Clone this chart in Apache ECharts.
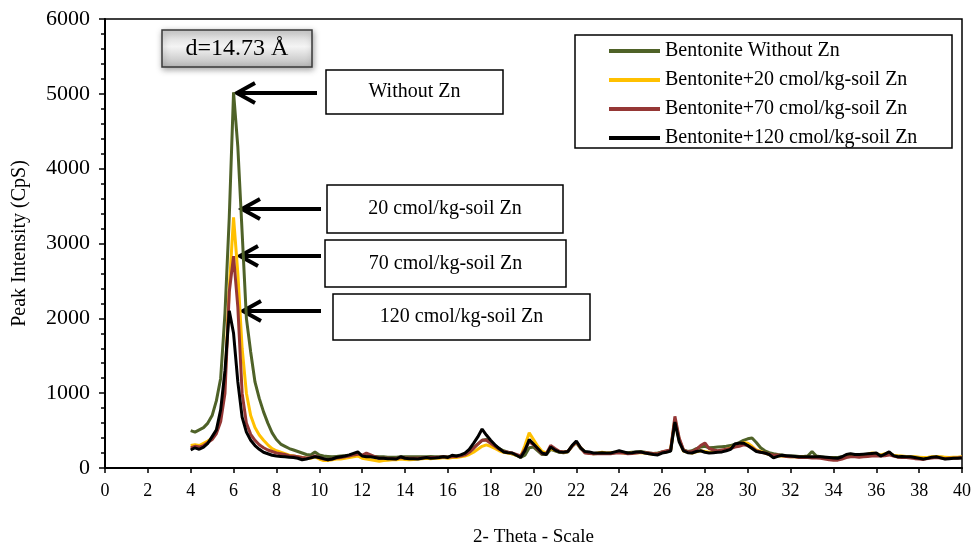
<!DOCTYPE html>
<html style="height: 100%">
<head>
    <meta charset="utf-8">
    <script src="https://cdn.jsdelivr.net/npm/echarts@6/dist/echarts.min.js"></script>
    <title>XRD Bentonite Zn</title>
</head>
<body style="height: 100%; margin: 0; background: #fff">
<div id="container" style="width: 974px; height: 544px"></div>
<script type="text/javascript">
// 2-theta positions (degrees)
let theta = [
    4.0, 4.2, 4.4, 4.6, 4.8, 5.0, 5.2, 5.4, 5.6, 5.8, 6.0, 6.2, 6.4, 6.6, 6.8, 7.0, 7.2, 7.4, 7.6, 7.8, 8.0,
    8.2, 8.4, 8.6, 8.8, 9.0, 9.2, 9.4, 9.6, 9.8, 10.0,
    10.2, 10.4, 10.6, 10.8, 11.0, 11.2, 11.4, 11.6, 11.8, 12.0,
    12.2, 12.4, 12.6, 12.8, 13.0, 13.2, 13.4, 13.6, 13.8, 14.0,
    14.2, 14.4, 14.6, 14.8, 15.0, 15.2, 15.4, 15.6, 15.8, 16.0,
    16.2, 16.4, 16.6, 16.8, 17.0, 17.2, 17.4, 17.6, 17.8, 18.0,
    18.2, 18.4, 18.6, 18.8, 19.0, 19.2, 19.4, 19.6, 19.8, 20.0,
    20.2, 20.4, 20.6, 20.8, 21.0, 21.2, 21.4, 21.6, 21.8, 22.0,
    22.2, 22.4, 22.6, 22.8, 23.0, 23.2, 23.4, 23.6, 23.8, 24.0,
    24.2, 24.4, 24.6, 24.8, 25.0, 25.2, 25.4, 25.6, 25.8, 26.0,
    26.2, 26.4, 26.6, 26.8, 27.0, 27.2, 27.4, 27.6, 27.8, 28.0,
    28.2, 28.4, 28.6, 28.8, 29.0, 29.2, 29.4, 29.6, 29.8, 30.0,
    30.2, 30.4, 30.6, 30.8, 31.0, 31.2, 31.4, 31.6, 31.8, 32.0,
    32.2, 32.4, 32.6, 32.8, 33.0, 33.2, 33.4, 33.6, 33.8, 34.0,
    34.2, 34.4, 34.6, 34.8, 35.0, 35.2, 35.4, 35.6, 35.8, 36.0,
    36.2, 36.4, 36.6, 36.8, 37.0, 37.2, 37.4, 37.6, 37.8, 38.0,
    38.2, 38.4, 38.6, 38.8, 39.0, 39.2, 39.4, 39.6, 39.8, 40.0
]

let withoutZn = [
    500, 480, 510, 540, 600, 700, 900, 1200, 2070, 3350, 5020, 4290, 3150, 2000, 1550, 1150, 930, 750, 600, 470, 380,
    320, 290, 260, 240, 220, 200, 180, 175, 215, 175,
    160, 155, 150, 155, 160, 165, 170, 180, 185, 170,
    165, 160, 155, 150, 150, 145, 145, 145, 150, 150,
    150, 150, 150, 150, 150, 155, 150, 150, 155, 150,
    155, 160, 165, 180, 220, 270, 320, 370, 380, 350,
    300, 260, 230, 210, 190, 170, 140, 170, 270, 280,
    230, 180, 180, 250, 230, 210, 205, 215, 290, 340,
    260, 215, 200, 190, 195, 200, 195, 195, 205, 215,
    210, 205, 210, 215, 220, 210, 200, 195, 200, 215,
    220, 230, 640, 380, 240, 220, 230, 260, 280, 290,
    270, 275, 280, 285, 290, 300, 320, 340, 370, 390,
    400, 340, 270, 230, 205, 190, 180, 175, 165, 160,
    160, 155, 155, 160, 220, 160, 150, 145, 140, 140,
    140, 150, 165, 170, 170, 165, 170, 175, 180, 185,
    175, 180, 190, 170, 160, 155, 150, 150, 145, 140,
    140, 140, 145, 150, 145, 140, 140, 140, 140, 145
]

let zn20 = [
    300, 310, 300, 330, 360, 400, 500, 700, 1150, 2400, 3350, 2600, 1600, 1000, 700, 540, 440, 370, 310, 260, 230,
    210, 190, 170, 160, 150, 140, 130, 130, 150, 120,
    100, 100, 110, 120, 120, 130, 140, 150, 160, 130,
    120, 110, 100, 90, 100, 105, 110, 110, 120, 115,
    110, 115, 120, 125, 130, 125, 130, 130, 140, 130,
    140, 140, 150, 160, 180, 210, 250, 290, 310, 290,
    260, 230, 210, 200, 190, 170, 150, 300, 470, 380,
    290, 220, 200, 260, 240, 220, 210, 220, 290, 350,
    270, 210, 200, 190, 200, 210, 200, 205, 210, 210,
    200, 195, 200, 205, 205, 200, 190, 185, 185, 210,
    215, 240, 650, 370, 225, 210, 200, 215, 230, 220,
    210, 210, 220, 230, 250, 270, 300, 320, 340, 330,
    290, 240, 220, 200, 180, 160, 165, 160, 155, 150,
    150, 145, 150, 145, 145, 145, 140, 140, 135, 130,
    125, 140, 170, 180, 175, 175, 180, 185, 200, 195,
    170, 190, 205, 170, 160, 160, 155, 150, 150, 145,
    140, 140, 150, 155, 150, 145, 140, 145, 145, 150
]

let zn70 = [
    270, 290, 280, 300, 340, 380, 460, 620, 1000, 2350, 2830, 2150, 1000, 600, 450, 370, 310, 270, 240, 220, 200,
    190, 180, 165, 160, 150, 140, 135, 140, 160, 140,
    120, 110, 120, 135, 140, 150, 160, 175, 185, 170,
    200, 175, 150, 130, 130, 130, 125, 125, 140, 135,
    130, 130, 130, 135, 140, 140, 140, 145, 150, 145,
    150, 155, 160, 175, 210, 260, 320, 370, 370, 330,
    290, 250, 220, 210, 200, 180, 160, 250, 350, 310,
    250, 190, 190, 300, 260, 225, 215, 220, 290, 350,
    270, 200, 195, 190, 190, 195, 190, 190, 200, 205,
    200, 190, 195, 200, 210, 205, 200, 190, 190, 215,
    230, 240, 690, 400, 240, 215, 220, 250, 300, 335,
    260, 240, 230, 240, 250, 260, 280, 290, 310, 300,
    270, 230, 210, 200, 185, 170, 175, 165, 155, 150,
    150, 140, 140, 140, 135, 135, 130, 120, 110, 105,
    105, 120, 140, 150, 150, 145, 150, 155, 160, 165,
    160, 165, 175, 160, 145, 140, 140, 135, 125, 120,
    115, 125, 135, 140, 135, 125, 130, 130, 135, 140
]

let zn120 = [
    240, 270, 250, 280, 330, 420, 510, 780, 1300, 2100, 1800, 1150, 680, 480, 370, 300, 250, 210, 190, 170, 160,
    155, 150, 145, 140, 130, 110, 120, 135, 150, 140,
    125, 110, 120, 140, 150, 160, 175, 195, 215, 160,
    150, 150, 140, 130, 130, 125, 125, 120, 150, 130,
    125, 125, 120, 130, 140, 130, 135, 140, 150, 140,
    170, 160, 175, 200, 250, 330, 415, 520, 440, 370,
    310, 260, 215, 205, 200, 170, 140, 230, 380, 320,
    260, 200, 180, 280, 240, 215, 210, 220, 300, 360,
    270, 220, 215, 200, 200, 205, 200, 200, 215, 230,
    215, 200, 205, 215, 215, 200, 190, 180, 175, 200,
    210, 225, 615, 350, 230, 205, 200, 220, 230, 210,
    200, 205, 210, 215, 230, 250, 320, 330, 335, 300,
    260, 220, 210, 200, 180, 135, 155, 170, 165, 160,
    155, 150, 150, 150, 150, 150, 150, 145, 140, 135,
    130, 150, 180, 190, 180, 180, 185, 190, 195, 200,
    160, 185, 215, 165, 150, 155, 150, 150, 140, 130,
    120, 130, 145, 150, 135, 120, 125, 130, 130, 135
]

let seriesNames = [
    'Bentonite Without Zn',
    'Bentonite+20 cmol/kg-soil Zn',
    'Bentonite+70 cmol/kg-soil Zn',
    'Bentonite+120 cmol/kg-soil Zn'
]
let seriesValues = [withoutZn, zn20, zn70, zn120]
let seriesColors = ['#4f6228', '#ffc000', '#953735', '#000000']

let font = '"Liberation Serif", "Times New Roman", serif'

function pairs(ys) {
    let out = []
    for (let i = 0; i < theta.length; i++) {
        out.push([theta[i], ys[i]])
    }
    return out
}

let series = seriesNames.map((name, i) => ({
    name: name,
    type: 'line',
    data: pairs(seriesValues[i]),
    showSymbol: false,
    symbol: 'none',
    smooth: false,
    color: seriesColors[i],
    lineStyle: {width: 3, color: seriesColors[i]},
    z: 2 + i
}))

// annotation boxes + arrows (pixel layout)
function labelBox(x, y, w, h, text) {
    return {
        type: 'group',
        z: 10,
        children: [
            {type: 'rect', shape: {x: x, y: y, width: w, height: h},
             style: {fill: '#fff', stroke: '#000', lineWidth: 1.5}},
            {type: 'text', x: x + w / 2, y: y + h / 2,
             style: {text: text, font: '20px ' + font, fill: '#000',
                      align: 'center', verticalAlign: 'middle'}}
        ]
    }
}

function arrow(x1, x2, y) {
    return {
        type: 'group',
        z: 10,
        children: [
            {type: 'line', shape: {x1: x1, y1: y, x2: x2 + 2, y2: y},
             style: {stroke: '#000', lineWidth: 4}},
            {type: 'polyline', shape: {points: [[x2 + 18, y - 10], [x2, y], [x2 + 18, y + 10]]},
             style: {stroke: '#000', lineWidth: 4, fill: null}}
        ]
    }
}

let graphics = [
    // legend frame
    {type: 'rect', z: 3, shape: {x: 575, y: 35, width: 377, height: 113},
     style: {fill: '#fff', stroke: '#000', lineWidth: 1.5}},
    // d-spacing box
    {
        type: 'group', z: 10,
        children: [
            {type: 'rect', shape: {x: 162, y: 30, width: 150, height: 37},
             style: {
                 fill: new echarts.graphic.LinearGradient(0, 0, 0, 1, [
                     {offset: 0, color: '#cfcfcf'},
                     {offset: 0.45, color: '#f4f4f4'},
                     {offset: 1, color: '#b8b8b8'}
                 ]),
                 stroke: '#3a3a3a', lineWidth: 1.5,
                 shadowBlur: 6, shadowColor: 'rgba(0,0,0,0.35)', shadowOffsetX: 1, shadowOffsetY: 2
             }},
            {type: 'text', x: 237, y: 49,
             style: {text: 'd=14.73 Å', font: '24px ' + font, fill: '#000',
                      align: 'center', verticalAlign: 'middle'}}
        ]
    },
    labelBox(326, 70, 177, 44, 'Without Zn'),
    labelBox(327, 185, 236, 48, '20 cmol/kg-soil Zn'),
    labelBox(325, 240, 241, 47, '70 cmol/kg-soil Zn'),
    labelBox(333, 294, 257, 46, '120 cmol/kg-soil Zn'),
    arrow(317, 237, 93),
    arrow(321, 242, 209),
    arrow(321, 240, 256),
    arrow(321, 243, 311)
]

let chart = echarts.init(document.getElementById('container'))
chart.setOption({
    animation: false,
    backgroundColor: '#fff',
    grid: {
        left: 105, right: 12, top: 19, bottom: 76,
        show: true, borderColor: '#000', borderWidth: 1.5,
        containLabel: false,
        outerBoundsMode: 'none'
    },
    legend: {
        data: seriesNames,
        orient: 'vertical',
        left: 609,
        top: 41,
        icon: 'rect',
        itemWidth: 51,
        itemHeight: 4,
        itemGap: 9,
        padding: 0,
        z: 5,
        textStyle: {fontFamily: font, fontSize: 20, color: '#000', lineHeight: 20}
    },
    xAxis: {
        type: 'value',
        min: 0, max: 40, interval: 2,
        name: '2- Theta - Scale',
        nameLocation: 'middle',
        nameGap: 60,
        nameTextStyle: {fontFamily: font, fontSize: 19, color: '#000'},
        axisLine: {onZero: false, lineStyle: {color: '#000', width: 2}},
        axisTick: {show: true, inside: false, length: 5, lineStyle: {color: '#000', width: 1.5}},
        axisLabel: {fontFamily: font, fontSize: 18, color: '#000', margin: 14},
        splitLine: {show: false}
    },
    yAxis: {
        type: 'value',
        min: 0, max: 6000, interval: 1000,
        name: 'Peak Intensity (CpS)',
        nameLocation: 'middle',
        nameGap: 75,
        nameTextStyle: {fontFamily: font, fontSize: 20, color: '#000'},
        axisLine: {show: true, lineStyle: {color: '#000', width: 2}},
        axisTick: {show: true, inside: false, length: 6, lineStyle: {color: '#000', width: 1.5}},
        minorTick: {show: true, splitNumber: 5, length: 4, lineStyle: {color: '#000', width: 1.5}},
        axisLabel: {fontFamily: font, fontSize: 22, color: '#000', margin: 15,
                    formatter: v => String(v)},
        splitLine: {show: false}
    },
    series: series,
    graphic: graphics
}, true)
</script>
</body>
</html>
